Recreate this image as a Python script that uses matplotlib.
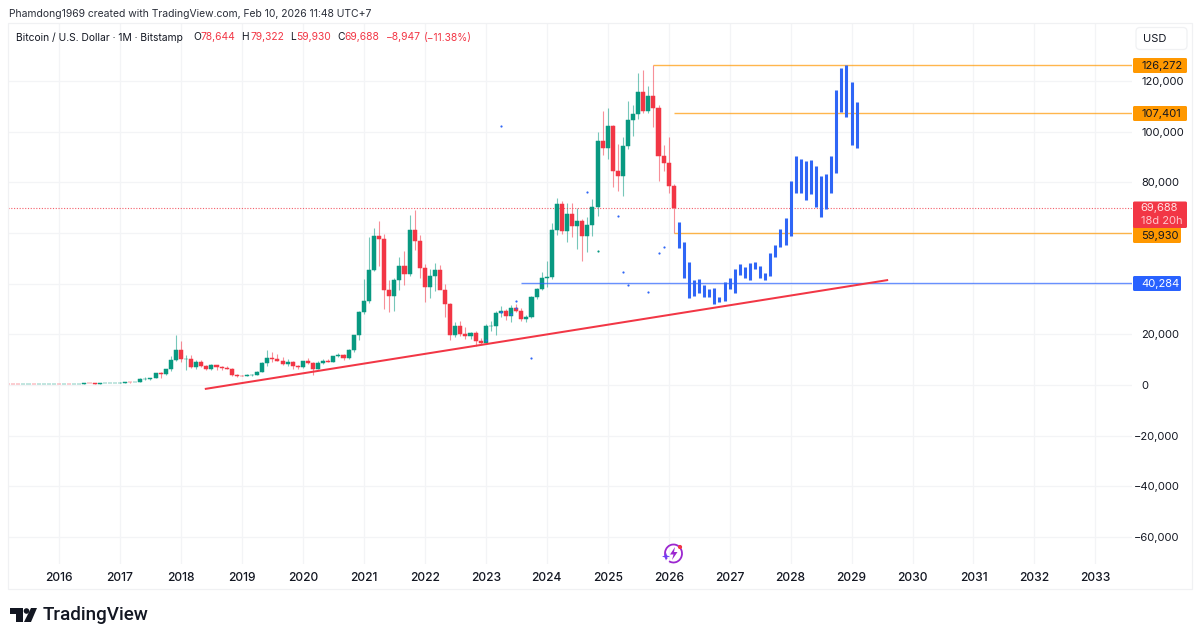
import matplotlib
matplotlib.use("Agg")
import matplotlib.pyplot as plt
from matplotlib.patches import FancyBboxPatch, Polygon, Rectangle, Circle, Arc
from matplotlib.transforms import ScaledTranslation

plt.rcParams['font.family'] = ['Inter', 'DejaVu Sans']

# monthly candles from 2015-03 to 2026-02, month 0 is 2016-01
first_month = -10
opens = [255,245,235,230,262,285,230,236,315,378,
 430,370,437,415,450,530,670,620,575,610,700,745,
 965,965,1190,1080,1350,2300,2480,2870,4700,4340,6440,9950,
 13800,10100,10300,6920,9240,7490,6390,7730,7030,6620,6300,4020,
 3740,3450,3820,4100,5270,8550,10760,10080,9600,8300,9150,7540,
 7190,9350,8520,6410,8620,9450,9140,11350,11650,10780,13800,19700,
 28950,33100,45200,58800,57700,37300,35000,41500,47100,43800,61300,57000,
 46200,38500,43200,45500,37650,31800,19900,23300,20050,19400,20500,17170,
 16550,23130,23140,28470,29250,27200,30470,29200,25950,27000,34650,37700,
 42250,42580,61150,71300,60650,67500,62700,64600,58950,63300,70200,96400,
 93400,102400,84350,82500,94200,104600,107150,115800,108250,114050,109500,90400,
 87500,78644]
highs = [300,260,250,270,320,285,260,335,495,470,
 460,450,440,470,550,780,680,620,640,730,760,980,
 1150,1200,1290,1350,2780,3000,2900,4480,4980,6470,11500,19666,
 17200,11780,11700,9750,10000,7780,8480,7740,7400,7680,6560,4240,
 4070,4200,4150,5600,9000,13880,13200,12320,10950,10370,9500,7750,
 9580,10500,9190,9470,10080,10380,11450,12480,12080,14100,19500,29300,
 41950,58350,61800,64900,59500,41300,42400,50500,52900,67000,69000,59100,
 47900,45800,48200,47400,40000,32400,24700,25200,22800,21000,21470,18400,
 23950,25250,29200,31000,29800,31400,31800,30200,27500,35000,38400,44700,
 48950,64000,73800,72800,71950,71950,70000,65600,66500,73600,99800,108300,
 109300,102800,95000,97900,112000,110500,123200,124500,117900,126272,110700,94600,
 97900,79322]
lows = [240,210,225,220,255,200,225,235,300,340,
 350,360,405,412,440,520,600,480,570,605,690,740,
 750,920,890,1060,1350,2100,1830,2700,2950,4100,5500,9500,
 9000,5920,6600,6430,7000,5750,6070,5880,6100,6200,3650,3120,
 3350,3380,3670,4100,5240,7500,9100,9320,7700,7300,6500,6430,
 6850,8450,3850,6150,8100,8900,8950,11000,9820,10370,13200,17600,
 28200,32300,44900,47000,30000,28800,29300,37300,39600,43200,53300,42300,
 32900,34300,37200,37700,26700,17600,18800,19500,18200,18200,15500,16250,
 16500,21350,19600,26900,25800,24800,28900,25300,24900,26550,34100,37600,
 38500,41900,59100,59600,56500,58400,53500,49000,52500,58900,66800,90700,
 89200,78200,76600,74500,93300,98200,105100,107300,107250,102000,80600,84400,
 75700,59930]
closes = [245,235,230,262,285,230,236,315,378,430,
 370,437,415,450,530,670,620,575,610,700,745,965,
 965,1190,1080,1350,2300,2480,2870,4700,4340,6440,9950,13800,
 10100,10300,6920,9240,7490,6390,7730,7030,6620,6300,4020,3740,
 3450,3820,4100,5270,8550,10760,10080,9600,8300,9150,7540,7190,
 9350,8520,6410,8620,9450,9140,11350,11650,10780,13800,19700,28950,
 33100,45200,58800,57700,37300,35000,41500,47100,43800,61300,57000,46200,
 38500,43200,45500,37650,31800,19900,23300,20050,19400,20500,17170,16550,
 23130,23140,28470,29250,27200,30470,29200,25950,27000,34650,37700,42250,
 42580,61150,71300,60650,67500,62700,64600,58950,63300,70200,96400,93400,
 102400,84350,82500,94200,104600,107150,115800,108250,114050,109500,90400,87500,
 78644,69688]

# blue pasted bars, only high and low
proj_first = 122
proj_high = [64350,56460,48560,41450,41850,39480,37900,38300,34740,40660,42240,45800,
 47770,46590,48170,48560,46980,44220,52110,55270,61590,65930,80540,90410,
 89220,88440,88830,86460,82510,83300,90410,116470,125150,126340,119620,111730]
proj_low = [54090,42240,34350,35140,36320,34740,34740,31980,32770,33160,37900,36320,
 43430,42240,41450,45800,42240,41450,43030,50530,54480,55270,58830,75800,
 75800,73040,75410,70270,66330,69480,75800,83700,107780,105810,94750,93570]

# stray blue dots
dot_months = [87,93,104,110,111,112,116,118,119,90,90,89,87,84]
dot_prices = [102250,10660,76200,66720,44600,39480,36700,52230,54480,33160,30400,28000,28940,17770]
green_dot_month = 106
green_dot_price = 52900

# horizontal levels: price, starting month
levels = [126272, 107401, 59930, 40284]
level_starts = [117, 121, 121, 91]
last_price = 69688
trend_months = [28.7, 163.2]
trend_prices = [-1580, 41450]

price_ticks = [-60000,-40000,-20000,0,20000,40000,60000,80000,100000,120000]
price_labels = ['\u221260,000','\u221240,000','\u221220,000','0','20,000','40,000','60,000','80,000','100,000','120,000']
year_ticks = [i * 12 for i in range(18)]
year_labels = [str(2016 + i) for i in range(18)]

GREEN = '#089981'
RED = '#F23645'
BLUE = '#2F66F6'
ORANGE = '#FF9800'
GRID = '#F3F4F6'
DARK = '#131722'

fig = plt.figure(figsize=(12, 6.41), dpi=100)
W, H = 1200, 641


def px_rect(x0, y0, x1, y1):
    return [x0 / W, 1 - y1 / H, (x1 - x0) / W, (y1 - y0) / H]


ax = fig.add_axes(px_rect(8, 23, 1132, 564))
ax.set_xlim(-10.04, 211.2)
ax.set_ylim(-70670, 142900)
for s in ax.spines.values():
    s.set_visible(False)
ax.set_xticks(year_ticks)
ax.set_xticklabels(year_labels, fontsize=8.7, color=DARK, fontweight='medium')
ax.yaxis.tick_right()
ax.set_yticks(price_ticks)
ax.set_yticklabels(price_labels, fontsize=8.0, color=DARK)
ax.tick_params(axis='both', length=0)
ax.tick_params(axis='x', pad=5.5)
ax.tick_params(axis='y', pad=6.5)
for lab, val in zip(ax.get_yticklabels(), price_ticks):
    if val < 0:
        lab.set_transform(lab.get_transform() + ScaledTranslation(-7 / 100, 0, fig.dpi_scale_trans))
ax.grid(True, color=GRID, lw=0.9)
ax.set_axisbelow(True)

# candles
months = [first_month + i for i in range(len(opens))]
cols = [GREEN if c >= o else RED for o, c in zip(opens, closes)]
ax.vlines(months, lows, highs, colors=cols, lw=0.8, alpha=0.55, zorder=2)
ax.bar(months, [abs(c - o) for o, c in zip(opens, closes)], bottom=[min(o, c) for o, c in zip(opens, closes)],
       width=0.8, color=cols, edgecolor=cols, lw=0.35, zorder=3)

# levels and trend line
ax.axhline(last_price, color=RED, lw=0.8, ls=(0, (1, 1.5)), alpha=0.8, zorder=2)
level_cols = [ORANGE, ORANGE, ORANGE, '#2962FF']
for lv, st, c in zip(levels, level_starts, level_cols):
    ax.plot([st, 211.2], [lv, lv], color=c, lw=1.0, alpha=0.7, zorder=4, solid_capstyle='butt')
ax.plot(trend_months, trend_prices, color=RED, lw=1.45, zorder=5, solid_capstyle='butt')

# blue bars
proj_months = [proj_first + i for i in range(len(proj_high))]
ax.vlines(proj_months, proj_low, proj_high, colors=BLUE, lw=2.2, zorder=6, capstyle='butt')
ax.scatter(dot_months, dot_prices, s=2.5, color=BLUE, lw=0, zorder=6)
ax.scatter([green_dot_month], [green_dot_price], s=2.5, color=GREEN, lw=0, zorder=6)

# overlay in pixels for the TradingView furniture
ov = fig.add_axes([0, 0, 1, 1], facecolor='none')
ov.set_xlim(0, W)
ov.set_ylim(H, 0)
ov.axis('off')

# frame
ov.add_patch(Rectangle((8, 23), 1184, 566, fill=False, ec='#F0F1F3', lw=0.9))

ov.text(9, 14, 'Phamdong1969 created with TradingView.com, Feb 10, 2026 11:48 UTC+7',
        fontsize=7.47, color='#2A2E39', va='center')
ov.text(16, 37.5, 'Bitcoin / U.S. Dollar \u00b7 1M \u00b7 Bitstamp', fontsize=7.4, color=DARK, va='center')
legend_x = [193, 200, 241.5, 250, 290, 296, 337, 344, 386, 424]
legend_txt = ['O', '78,644', 'H', '79,322', 'L', '59,930', 'C', '69,688', '\u22128,947', '(\u221211.38%)']
for i, (lx, t) in enumerate(zip(legend_x, legend_txt)):
    is_letter = i < 8 and i % 2 == 0
    ov.text(lx, 37.5, t, fontsize=7.4, color=DARK if is_letter else RED, va='center')

# USD button
ov.add_patch(FancyBboxPatch((1136, 27.5), 51, 22, boxstyle='round,pad=0,rounding_size=4',
                            fc='white', ec='#F0F1F3', lw=0.9))
ov.text(1143.5, 38.5, 'USD', fontsize=8.0, color=DARK, va='center')


def price_tag(y0, y1, x1, col, txt, tcol='#131722'):
    ov.add_patch(FancyBboxPatch((1133, y0), x1 - 1133, y1 - y0, boxstyle='round,pad=0,rounding_size=1.5',
                                fc=col, ec='none', zorder=5))
    ov.text(1141, (y0 + y1) / 2 + 0.3, txt, fontsize=8.0, color=tcol, va='center', zorder=6)


price_tag(58, 73, 1187, ORANGE, '126,272')
price_tag(106, 121, 1187, ORANGE, '107,401')
price_tag(226, 243, 1181, ORANGE, '59,930')
price_tag(276, 291, 1181, '#2962FF', '40,284', 'white')
ov.texts[-2].set_y(236)
ov.add_patch(FancyBboxPatch((1133, 201.5), 54, 26.5, boxstyle='round,pad=0,rounding_size=1.5',
                            fc=RED, ec='none', zorder=7))
ov.text(1140, 208, '69,688', fontsize=8.0, color='#FFE4E6', va='center', zorder=8)
ov.text(1141, 220.5, '18d 20h', fontsize=8.0, color='#FFC7CC', va='center', zorder=8)

# lightning icon under the chart
ov.add_patch(Arc((673.5, 553.5), 17, 18, theta1=-220, theta2=120, color='#9C27D0', lw=1.3))
ov.add_patch(Polygon([[675, 547], [670, 554.5], [673.5, 554.5], [672, 560], [677.5, 552], [674, 552]],
                     closed=True, fc='#9C27D0', ec='none'))
ov.add_patch(Polygon([[666, 552.5], [667, 555.5], [670, 556.5], [667, 557.5], [666, 560.5], [665, 557.5],
                      [662, 556.5], [665, 555.5]], closed=True, fc='#6F3FF5', ec='none'))
ov.add_patch(Circle((680, 547), 2.1, fc=RED, ec='none'))

# logo
ov.add_patch(Polygon([[10, 608], [23, 608], [23, 622], [16, 622], [16, 614], [10, 614]], closed=True, fc=DARK, ec='none'))
ov.add_patch(Circle((26.5, 611), 2.8, fc=DARK, ec='none'))
ov.add_patch(Polygon([[31, 608], [37, 608], [31, 622], [24, 622]], closed=True, fc=DARK, ec='none'))
ov.text(43, 615, 'TradingView', fontsize=13.6, color=DARK, va='center', fontweight='medium', family=['Roboto', 'DejaVu Sans'])

fig.savefig('out.png', dpi=100, facecolor='white')
